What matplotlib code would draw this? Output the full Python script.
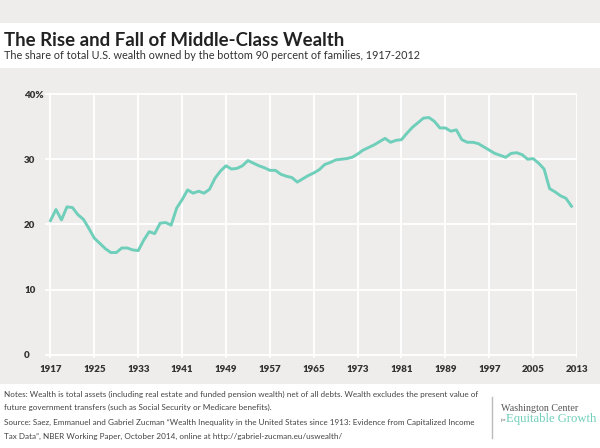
import matplotlib.pyplot as plt
from matplotlib.patches import Rectangle
from matplotlib.lines import Line2D

# share of total U.S. wealth held by the bottom 90% of families
years = list(range(1917, 2013))
share = [
    20.6, 22.3, 20.7, 22.7, 22.6, 21.5, 20.8, 19.4, 17.9, 17.1,   # 1917-1926
    16.3, 15.7, 15.7, 16.4, 16.4, 16.1, 16.0, 17.6, 18.9, 18.6,   # 1927-1936
    20.2, 20.3, 19.9, 22.5, 23.8, 25.3, 24.8, 25.1, 24.8, 25.4,   # 1937-1946
    27.1, 28.2, 29.0, 28.5, 28.6, 29.0, 29.8, 29.4, 29.0, 28.7,   # 1947-1956
    28.3, 28.3, 27.7, 27.4, 27.2, 26.5, 27.0, 27.5, 27.9, 28.4,   # 1957-1966
    29.2, 29.5, 29.9, 30.0, 30.1, 30.3, 30.8, 31.4, 31.8, 32.2,   # 1967-1976
    32.7, 33.2, 32.6, 32.9, 33.0, 34.0, 34.9, 35.6, 36.3, 36.4,   # 1977-1986
    35.8, 34.8, 34.8, 34.3, 34.5, 33.0, 32.6, 32.6, 32.4, 31.9,   # 1987-1996
    31.4, 30.9, 30.6, 30.3, 30.9, 31.0, 30.7, 30.0, 30.1, 29.4,   # 1997-2006
    28.5, 25.5, 25.0, 24.4, 24.0, 22.8,                           # 2007-2012
]
x_ticks = list(range(1917, 2014, 8))
y_ticks = [0, 10, 20, 30, 40]
y_labels = ["0", "10", "20", "30", "40%"]

title = "The Rise and Fall of Middle-Class Wealth"
subtitle = "The share of total U.S. wealth owned by the bottom 90 percent of families, 1917-2012"
notes = [
    "Notes: Wealth is total assets (including real estate and funded pension wealth) net of all debts. "
    "Wealth excludes the present value of",
    "future government transfers (such as Social Security or Medicare benefits).",
    "Source: Saez, Emmanuel and Gabriel Zucman \u201cWealth Inequality in the United States since 1913: "
    "Evidence from Capitalized Income",
    "Tax Data\u201d, NBER Working Paper, October 2014, online at http://gabriel-zucman.eu/uswealth/",
]

GRAY = "#eeedeb"
TEAL = "#6fcfba"
DARK = "#333333"

plt.rcParams["font.family"] = ["Lato", "DejaVu Sans"]

W, H = 600, 448
fig = plt.figure(figsize=(6, 4.48), dpi=100, facecolor="white")

# background bands (top strip, white title band, gray chart area, white footer)
fig.add_artist(Rectangle((0, 1 - 22.7 / H), 1, 22.7 / H, transform=fig.transFigure,
                         facecolor=GRAY, edgecolor="none", zorder=0))
fig.add_artist(Rectangle((0, 1 - 384 / H), 1, (384 - 68.3) / H, transform=fig.transFigure,
                         facecolor=GRAY, edgecolor="none", zorder=0))

# axes: x 1916..2013 from px 45 to 577, y -0.4..40.2
ax = fig.add_axes([45 / W, 1 - 357.6 / H, (577 - 45) / W, (357.6 - 92.7) / H])
ax.set_facecolor(GRAY)
ax.set_xlim(1916, 2013)
ax.set_ylim(-0.4, 40.2)
for s in ax.spines.values():
    s.set_visible(False)

ax.set_xticks(x_ticks)
ax.set_yticks(y_ticks)
ax.set_yticklabels(y_labels)
ax.grid(True, color="white", linewidth=1.3)
ax.set_axisbelow(True)
ax.tick_params(length=0, labelsize=7, labelcolor=DARK)
ax.tick_params(axis="x", pad=5)
ax.tick_params(axis="y", pad=15)
for lab in ax.get_xticklabels() + ax.get_yticklabels():
    lab.set_fontweight("heavy")
for lab in ax.get_yticklabels():
    lab.set_horizontalalignment("left")

ax.plot(years, share, color=TEAL, linewidth=2.1, solid_joinstyle="round", zorder=3)

# titles
fig.text(4 / W, 1 - 45.7 / H, title, fontsize=13.4, fontweight="bold", color="#222222",
         ha="left", va="baseline")
fig.text(4 / W, 1 - 59.3 / H, subtitle, fontsize=7.8, color=DARK, ha="left", va="baseline")

# footer notes
for line, base in zip(notes, [396.5, 410, 424.5, 438.5]):
    fig.text(4 / W, 1 - base / H, line, fontsize=5.9, color="#444444",
             ha="left", va="baseline")

# logo
fig.add_artist(Line2D([491.5 / W, 491.5 / W], [1 - 397 / H, 1 - 438 / H],
                      transform=fig.transFigure, color="#bbbbbb", linewidth=1))
fig.text(501 / W, 1 - 410.5 / H, "Washington Center", fontsize=7.2, color="#555555",
         family="Liberation Serif", ha="left", va="baseline")
fig.text(501 / W, 1 - 421 / H, "for", fontsize=3.5, color="#555555", style="italic",
         family="Liberation Serif", ha="left", va="baseline")
fig.text(506 / W, 1 - 421.5 / H, "Equitable Growth", fontsize=9.1, color=TEAL,
         family="Liberation Serif", ha="left", va="baseline")

fig.savefig("out.png", dpi=100, facecolor="white")
